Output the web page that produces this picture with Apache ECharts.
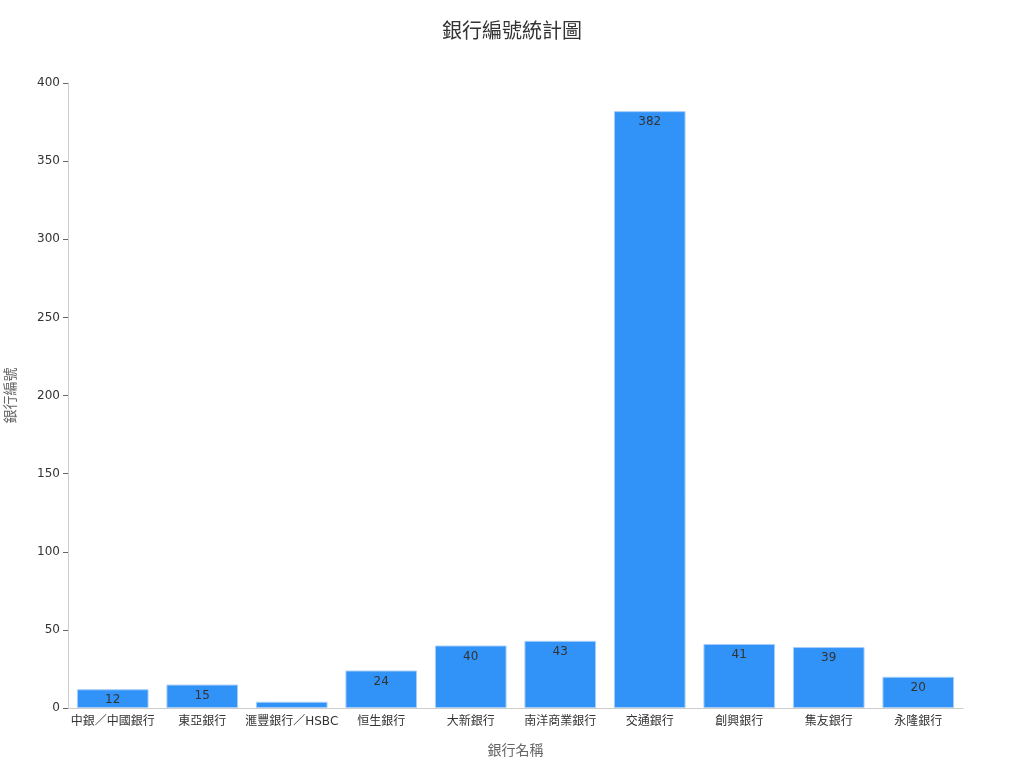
<!DOCTYPE html>
<html>
<head>
<meta charset="utf-8">
<title>銀行編號統計圖</title>
<script src="https://cdn.jsdelivr.net/npm/echarts@6/dist/echarts.min.js"></script>
<style>
  body { margin: 0; background: #fff; }
  #main { width: 1024px; height: 768px; }
</style>
</head>
<body>
<div id="main"></div>
<script>
  var banks = ['中銀／中國銀行', '東亞銀行', '滙豐銀行／HSBC', '恒生銀行', '大新銀行', '南洋商業銀行', '交通銀行', '創興銀行', '集友銀行', '永隆銀行'];
  var codes = [12, 15, 4, 24, 40, 43, 382, 41, 39, 20];
  var yTicks = [0, 50, 100, 150, 200, 250, 300, 350, 400];

  var font = '"DejaVu Sans", "Noto Sans CJK TC", sans-serif';
  var chart = echarts.init(document.getElementById('main'));
  chart.setOption({
    textStyle: { fontFamily: font },
    title: {
      text: '銀行編號統計圖',
      left: 'center',
      top: 18,
      textStyle: { fontSize: 20, fontWeight: 'normal', color: '#333', fontFamily: font }
    },
    grid: { left: 68, right: 61, top: 83, bottom: 60, outerBoundsMode: 'none', containLabel: false },
    xAxis: {
      type: 'category',
      data: banks,
      name: '銀行名稱',
      nameLocation: 'middle',
      nameGap: 36,
      nameTextStyle: { fontSize: 14, color: '#666' },
      axisLine: { lineStyle: { color: '#ccc' } },
      axisTick: { alignWithLabel: true, lineStyle: { color: '#666' } },
      axisLabel: { color: '#333', fontSize: 12, interval: 0 }
    },
    yAxis: {
      type: 'value',
      min: yTicks[0],
      max: yTicks[yTicks.length - 1],
      interval: 50,
      name: '銀行編號',
      nameLocation: 'middle',
      nameGap: 50,
      nameTextStyle: { fontSize: 14, color: '#666' },
      axisLine: { show: true, lineStyle: { color: '#ccc' } },
      axisTick: { show: true, lineStyle: { color: '#666' } },
      axisLabel: { color: '#333', fontSize: 12 },
      splitLine: { show: false }
    },
    series: [{
      type: 'bar',
      data: codes,
      barWidth: '80%',
      itemStyle: { color: '#3192f7', borderColor: '#a6cdf8', borderWidth: 1 },
      label: {
        show: true,
        position: 'insideTop',
        color: '#333',
        fontSize: 12,
        formatter: function (p) { return p.value >= 10 ? p.value : ''; }
      }
    }]
  });
</script>
</body>
</html>
